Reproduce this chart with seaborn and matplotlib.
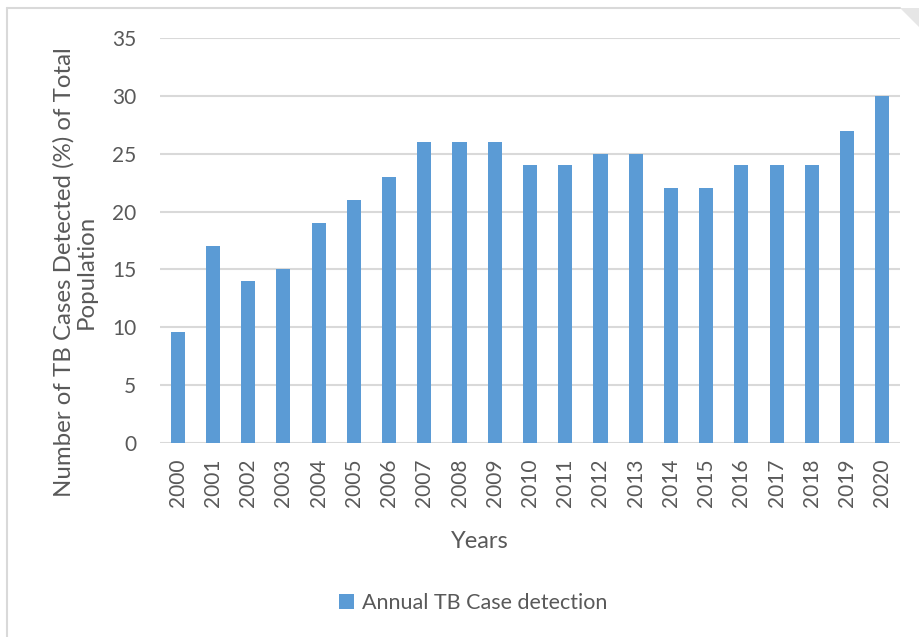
import matplotlib
matplotlib.use("Agg")
import matplotlib.pyplot as plt
from matplotlib.patches import Patch, Polygon
from matplotlib.lines import Line2D
import seaborn as sns
import pandas as pd

years = ["2000", "2001", "2002", "2003", "2004", "2005", "2006", "2007", "2008", "2009",
         "2010", "2011", "2012", "2013", "2014", "2015", "2016", "2017", "2018", "2019", "2020"]
detection = [9.6, 17, 14, 15, 19, 21, 23, 26, 26, 26,
             24, 24, 25, 25, 22, 22, 24, 24, 24, 27, 30]
y_ticks = [0, 5, 10, 15, 20, 25, 30, 35]
series_name = "Annual TB Case detection"
x_title = "Years"
y_title = "Number of TB Cases Detected (%) of Total\nPopulation"

BAR = "#5B9BD5"
TEXT = "#595959"
GRID = "#D9D9D9"

sns.set_theme(style="white")
plt.rcParams["font.family"] = ["Lato", "DejaVu Sans"]

W, H = 919, 637
fig = plt.figure(figsize=(W / 100, H / 100), dpi=100)
ax = fig.add_axes([160 / W, 1 - 443 / H, 740 / W, 405 / H])

df = pd.DataFrame({"year": years, "value": detection})
sns.barplot(data=df, x="year", y="value", color=BAR, width=0.4,
            saturation=1, linewidth=0, ax=ax, zorder=3)

ax.set_xlim(-0.5, len(years) - 0.5)
ax.set_ylim(0, 35)
ax.set_yticks(y_ticks)
ax.yaxis.grid(True, color=GRID, linewidth=1.5, zorder=0)
ax.xaxis.grid(False)
for s in ax.spines.values():
    s.set_visible(False)
ax.tick_params(axis="both", length=0, colors=TEXT, labelsize=15)
ax.tick_params(axis="y", pad=17)
ax.tick_params(axis="x", pad=11, rotation=90)
ax.set_xlabel("")
ax.set_ylabel("")

fig.text(75 / W, 1 - 272 / H, y_title, rotation=90, ha="center", va="center",
         multialignment="center", color=TEXT, fontsize=17.3, linespacing=1.1)
fig.text(480 / W, 1 - 541 / H, x_title, ha="center", va="center",
         color=TEXT, fontsize=17)

fig.legend(handles=[Patch(facecolor=BAR, edgecolor="none", label=series_name)],
           loc="center", bbox_to_anchor=(473 / W, 1 - 603 / H), frameon=False,
           fontsize=15.5, labelcolor=TEXT, handlelength=0.7, handleheight=0.7,
           handletextpad=0.35)

# chart frame and folded corner
fig.add_artist(Line2D([7 / W, 7 / W], [0, 1 - 8 / H], color="#D9D9D9", lw=1.5))
fig.add_artist(Line2D([7 / W, 900 / W], [1 - 8 / H, 1 - 8 / H], color="#D9D9D9", lw=1.5))
fig.add_artist(Polygon([[900 / W, 1 - 8 / H], [919 / W, 1 - 8 / H], [919 / W, 1 - 27 / H]],
                       closed=True, facecolor="#E6E6E6", edgecolor="none",
                       transform=fig.transFigure))

fig.savefig("out.png", dpi=100, facecolor="white")
